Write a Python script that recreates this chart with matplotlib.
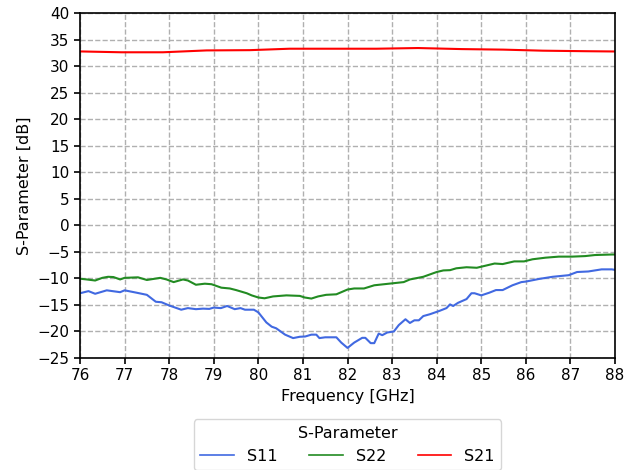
import matplotlib
matplotlib.use("Agg")
import matplotlib.pyplot as plt

s11_f = [76.0, 76.19, 76.34, 76.6, 76.9, 77.0, 77.27, 77.5, 77.7, 77.83, 78.0, 78.27, 78.42,
         78.6, 78.76, 78.9, 79.0, 79.16, 79.3, 79.47, 79.6, 79.7, 79.9, 80.0, 80.18, 80.3,
         80.4, 80.6, 80.78, 80.93, 81.05, 81.19, 81.3, 81.37, 81.5, 81.75, 81.86, 82.0,
         82.15, 82.33, 82.4, 82.52, 82.6, 82.7, 82.78, 82.89, 83.04, 83.15, 83.3, 83.4,
         83.5, 83.6, 83.7, 83.85, 84.07, 84.22, 84.3, 84.37, 84.48, 84.67, 84.78, 84.85,
         85.0, 85.18, 85.33, 85.48, 85.7, 85.9, 86.0, 86.3, 86.6, 86.96, 87.15, 87.4,
         87.7, 87.93, 88.0]
s11_v = [-12.8, -12.4, -12.9, -12.25, -12.6, -12.25, -12.7, -13.1, -14.4, -14.5, -15.1, -15.9, -15.6,
         -15.8, -15.7, -15.75, -15.5, -15.6, -15.2, -15.8, -15.6, -15.9, -15.9, -16.4, -18.3, -19.1,
         -19.4, -20.6, -21.25, -21.0, -20.95, -20.6, -20.6, -21.25, -21.1, -21.1, -22.1, -23.1,
         -22.1, -21.2, -21.2, -22.2, -22.2, -20.4, -20.7, -20.2, -20.0, -18.8, -17.7, -18.4,
         -17.9, -17.9, -17.1, -16.75, -16.1, -15.6, -14.9, -15.2, -14.6, -13.9, -12.8, -12.8,
         -13.2, -12.7, -12.2, -12.2, -11.3, -10.7, -10.6, -10.1, -9.7, -9.4, -8.8, -8.7,
         -8.3, -8.3, -8.4]

s22_f = [76.0, 76.15, 76.34, 76.5, 76.63, 76.75, 76.9, 77.0, 77.3, 77.5, 77.8, 77.94, 78.1,
         78.31, 78.42, 78.6, 78.8, 78.95, 79.17, 79.36, 79.5, 79.74, 79.85, 80.0, 80.14,
         80.33, 80.63, 80.93, 81.04, 81.19, 81.34, 81.52, 81.75, 82.0, 82.15, 82.37, 82.6,
         82.82, 83.26, 83.4, 83.7, 84.0, 84.15, 84.3, 84.44, 84.67, 84.9, 85.1, 85.3,
         85.48, 85.74, 85.96, 86.15, 86.44, 86.74, 87.04, 87.33, 87.55, 87.93, 88.0]
s22_v = [-10.06, -10.2, -10.4, -9.9, -9.7, -9.75, -10.2, -9.9, -9.8, -10.3, -9.9, -10.2, -10.7,
         -10.2, -10.4, -11.2, -11.0, -11.1, -11.75, -11.9, -12.2, -12.8, -13.2, -13.6, -13.75,
         -13.4, -13.2, -13.3, -13.6, -13.8, -13.4, -13.1, -13.0, -12.1, -11.9, -11.9, -11.3,
         -11.1, -10.7, -10.2, -9.7, -8.8, -8.5, -8.45, -8.1, -7.9, -8.0, -7.6, -7.2,
         -7.3, -6.8, -6.8, -6.4, -6.1, -5.9, -5.9, -5.8, -5.6, -5.5, -5.5]

s21_f = [76.0, 76.93, 77.86, 78.84, 79.81, 80.7, 81.67, 82.65, 83.58, 84.56, 85.49, 86.38, 87.36, 88.0]
s21_v = [32.76, 32.6, 32.6, 32.95, 33.0, 33.27, 33.27, 33.27, 33.4, 33.2, 33.1, 32.9, 32.8, 32.75]

x_ticks = list(range(76, 89))
y_ticks = list(range(-25, 41, 5))

fig = plt.figure(figsize=(6.35, 4.7), dpi=100)
ax = fig.add_axes([80/635, 1 - 358/470, 535/635, 345/470])
ax.plot(s11_f, s11_v, color="royalblue", lw=1.5, label="S11")
ax.plot(s22_f, s22_v, color="forestgreen", lw=1.5, label="S22")
ax.plot(s21_f, s21_v, color="red", lw=1.5, label="S21")
ax.set_xlim(76, 88)
ax.set_ylim(-25, 40)
ax.set_xticks(x_ticks)
ax.set_yticks(y_ticks)
ax.tick_params(labelsize=11, direction="out", length=4, width=1.2)
ax.grid(True, linestyle="--", color="#b0b0b0", lw=1)
ax.set_xlabel("Frequency [GHz]", fontsize=11.5)
ax.set_ylabel("S-Parameter [dB]", fontsize=11.5)
for s in ax.spines.values():
    s.set_linewidth(1.2)
leg = ax.legend(title="S-Parameter", loc="upper center", bbox_to_anchor=(0.5, -0.178),
                borderaxespad=0, ncol=3, fontsize=11.5, title_fontsize=11.5, frameon=True,
                columnspacing=2.0, handlelength=2.1)
for h in leg.get_lines():
    h.set_linewidth(1.2)
fig.savefig("out.png", dpi=100)
